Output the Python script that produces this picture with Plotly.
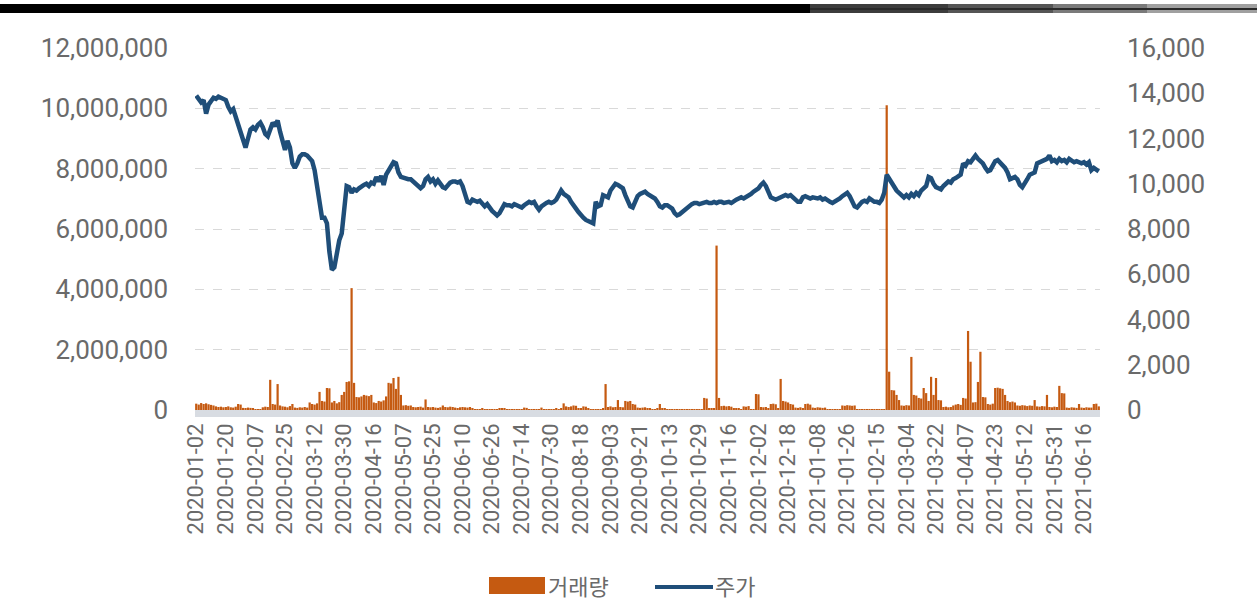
import pandas as pd
import plotly.graph_objects as go

# ---------------------------------------------------------------- data
# KRX market holidays falling on weekdays in the period shown
holidays = [
    "2020-01-24", "2020-01-27", "2020-04-15", "2020-04-30", "2020-05-01",
    "2020-05-05", "2020-08-17", "2020-09-30", "2020-10-01", "2020-10-02",
    "2020-10-09", "2020-12-25", "2020-12-31", "2021-01-01", "2021-02-11",
    "2021-02-12", "2021-03-01", "2021-05-05", "2021-05-19",
]

tick_labels = [
    "2020-01-02", "2020-01-20", "2020-02-07", "2020-02-25", "2020-03-12",
    "2020-03-30", "2020-04-16", "2020-05-07", "2020-05-25", "2020-06-10",
    "2020-06-26", "2020-07-14", "2020-07-30", "2020-08-18", "2020-09-03",
    "2020-09-21", "2020-10-13", "2020-10-29", "2020-11-16", "2020-12-02",
    "2020-12-18", "2021-01-08", "2021-01-26", "2021-02-15", "2021-03-04",
    "2021-03-22", "2021-04-07", "2021-04-23", "2021-05-12", "2021-05-31",
    "2021-06-16",
]

# closing price (KRW), one value per trading day
price = [
    13900, 13750, 13600, 13700, 13100, 13500, 13650, 13800, 13750, 13850, 13800, 13750,
    13700, 13400, 13200, 13300, 12950, 12700, 12300, 11900, 11600, 12000, 12400, 12500,
    12400, 12600, 12700, 12500, 12200, 12100, 12400, 12700, 12550, 12800, 12300, 11800,
    11500, 11900, 11600, 10900, 10700, 10900, 11200, 11300, 11300, 11250, 11100, 11000,
    10600, 9800, 9000, 8500, 8500, 8250, 7000, 6200, 6300, 6900, 7500, 7800,
    9000, 9900, 9850, 9600, 9750, 9700, 9800, 9900, 9950, 10000, 9900, 10050,
    10000, 10300, 10100, 10350, 9950, 10400, 10600, 10800, 10950, 10900, 10500, 10300,
    10250, 10250, 10200, 10200, 10100, 10000, 9850, 9800, 9900, 10200, 10300, 10100,
    10200, 10000, 10150, 9950, 9850, 9800, 9950, 10050, 10100, 10100, 10050, 10100,
    9900, 9600, 9200, 9150, 9300, 9250, 9200, 9250, 9100, 9000, 9100, 8900,
    8800, 8700, 8600, 8700, 8900, 9100, 9050, 9050, 9000, 9100, 9050, 9000,
    8950, 9050, 9150, 9200, 9150, 9200, 9000, 8850, 9000, 9100, 9150, 9200,
    9150, 9200, 9300, 9500, 9700, 9550, 9450, 9400, 9200, 9000, 8900, 8750,
    8600, 8500, 8400, 8350, 8300, 8250, 9200, 9000, 9050, 9500, 9450, 9400,
    9700, 9900, 10000, 9950, 9850, 9800, 9500, 9200, 9000, 8950, 9200, 9450,
    9550, 9600, 9650, 9550, 9500, 9400, 9350, 9200, 9000, 8950, 9050, 9050,
    9000, 8900, 8700, 8600, 8650, 8750, 8850, 8950, 9050, 9100, 9150, 9150,
    9100, 9150, 9150, 9200, 9150, 9150, 9200, 9150, 9200, 9200, 9150, 9200,
    9200, 9150, 9250, 9300, 9350, 9400, 9350, 9400, 9500, 9550, 9650, 9700,
    9800, 9950, 10050, 9900, 9600, 9400, 9350, 9300, 9350, 9400, 9450, 9500,
    9450, 9500, 9400, 9300, 9200, 9200, 9400, 9450, 9400, 9350, 9400, 9350,
    9350, 9400, 9300, 9350, 9250, 9200, 9150, 9200, 9300, 9350, 9450, 9550,
    9600, 9450, 9250, 9000, 8950, 9100, 9200, 9250, 9200, 9350, 9250, 9200,
    9200, 9150, 9300, 9600, 10400, 10200, 10000, 9800, 9700, 9600, 9500, 9400,
    9500, 9400, 9550, 9450, 9600, 9500, 9700, 9800, 9900, 10300, 10250, 10000,
    9850, 9800, 9750, 9900, 10000, 10100, 10050, 10200, 10250, 10300, 10400, 10900,
    10800, 11000, 10950, 11100, 11250, 11100, 11000, 10900, 10700, 10550, 10600, 10800,
    11000, 11050, 10950, 10800, 10700, 10500, 10200, 10250, 10300, 10200, 9950, 9850,
    10000, 10200, 10400, 10450, 10500, 10900, 10950, 11000, 11050, 11100, 11250, 11000,
    11050, 10950, 11100, 11000, 11050, 10950, 11100, 11000, 10950, 11000, 10950, 10900,
    10950, 10850, 10950, 10600, 10700, 10600, 10550,
]

# trading volume (shares), one value per trading day
volume = [
    210000, 180000, 230000, 200000, 220000, 190000, 170000, 150000, 120000, 100000, 110000, 90000,
    100000, 120000, 90000, 80000, 110000, 200000, 180000, 70000, 60000, 80000, 70000, 50000,
    20000, 15000, 20000, 90000, 110000, 100000, 1000000, 200000, 180000, 860000, 150000, 120000,
    110000, 90000, 130000, 200000, 80000, 70000, 90000, 80000, 100000, 80000, 250000, 200000,
    180000, 220000, 600000, 300000, 280000, 730000, 720000, 250000, 300000, 220000, 260000, 500000,
    600000, 930000, 950000, 4040000, 900000, 430000, 420000, 450000, 500000, 480000, 460000, 500000,
    250000, 230000, 300000, 280000, 320000, 450000, 900000, 880000, 1060000, 700000, 1100000, 500000,
    150000, 160000, 140000, 150000, 100000, 90000, 100000, 110000, 80000, 350000, 100000, 90000,
    100000, 80000, 70000, 90000, 150000, 100000, 90000, 110000, 100000, 80000, 60000, 90000,
    100000, 90000, 80000, 100000, 40000, 30000, 20000, 30000, 40000, 20000, 30000, 20000,
    30000, 20000, 30000, 50000, 40000, 50000, 30000, 20000, 20000, 30000, 20000, 30000,
    30000, 80000, 70000, 30000, 20000, 30000, 20000, 30000, 80000, 20000, 30000, 20000,
    30000, 20000, 40000, 30000, 50000, 220000, 120000, 100000, 120000, 150000, 140000, 60000,
    40000, 120000, 110000, 40000, 30000, 20000, 30000, 20000, 30000, 40000, 860000, 100000,
    120000, 90000, 100000, 330000, 100000, 90000, 300000, 280000, 300000, 200000, 180000, 80000,
    70000, 80000, 90000, 60000, 40000, 30000, 30000, 40000, 200000, 50000, 40000, 20000,
    20000, 15000, 10000, 20000, 15000, 10000, 20000, 15000, 10000, 20000, 15000, 10000,
    20000, 30000, 400000, 380000, 50000, 40000, 50000, 5450000, 400000, 130000, 140000, 120000,
    130000, 110000, 50000, 40000, 60000, 30000, 120000, 110000, 130000, 30000, 20000, 530000,
    520000, 100000, 90000, 100000, 40000, 200000, 210000, 190000, 60000, 1030000, 300000, 280000,
    250000, 200000, 180000, 80000, 70000, 90000, 60000, 200000, 210000, 180000, 80000, 70000,
    90000, 80000, 70000, 80000, 20000, 10000, 15000, 20000, 10000, 20000, 150000, 140000,
    160000, 150000, 140000, 150000, 30000, 20000, 10000, 20000, 15000, 10000, 20000, 10000,
    15000, 10000, 20000, 30000, 10100000, 1270000, 660000, 650000, 500000, 330000, 150000, 140000,
    160000, 150000, 1760000, 500000, 480000, 400000, 380000, 730000, 560000, 300000, 1100000, 500000,
    1060000, 330000, 320000, 100000, 110000, 90000, 100000, 150000, 180000, 200000, 170000, 400000,
    380000, 2620000, 1600000, 250000, 260000, 930000, 1930000, 430000, 420000, 200000, 180000, 210000,
    730000, 740000, 720000, 700000, 500000, 300000, 260000, 280000, 250000, 150000, 140000, 160000,
    150000, 130000, 150000, 140000, 330000, 120000, 110000, 130000, 120000, 500000, 100000, 90000,
    110000, 100000, 800000, 560000, 550000, 80000, 70000, 90000, 80000, 70000, 200000, 80000,
    70000, 90000, 80000, 80000, 200000, 210000, 120000,
]

series_names = ["거래량", "주가"]

# trading-day categories for the x axis
all_days = pd.bdate_range("2020-01-02", "2021-06-30").strftime("%Y-%m-%d")
days = [d for d in all_days if d not in holidays][: len(price)]

# ---------------------------------------------------------------- layout
W, H = 1257, 602
PL, PR, PT, PB = 195, 1100, 48, 410  # plot box (px)

BAR_COLOR = "#C55A11"
LINE_COLOR = "#1F4E79"
TEXT_COLOR = "#6a6a6a"


def px_x(x):
    return (x - PL) / (PR - PL)


def px_y(y):
    return (PB - y) / (PB - PT)


fig = go.Figure()
fig.add_trace(go.Bar(
    x=days, y=volume, name=series_names[0],
    marker=dict(color=BAR_COLOR, line_width=0), showlegend=False,
))
fig.add_trace(go.Scatter(
    x=days, y=price, name=series_names[1], yaxis="y2", mode="lines",
    line=dict(color=LINE_COLOR, width=4.5), showlegend=False,
))

shapes = []
# grey strip under the category axis
shapes.append(dict(type="rect", xref="paper", yref="paper",
                   x0=0, x1=1, y0=px_y(417), y1=px_y(410),
                   fillcolor="#d8dce2", line_width=0, layer="below"))

# header bar along the top edge
shapes.append(dict(type="rect", xref="paper", yref="paper",
                   x0=px_x(0), x1=px_x(810), y0=px_y(13), y1=px_y(4),
                   fillcolor="#000000", line_width=0))
for x0, x1, c in [(810, 948, "#3c3c3c"), (948, 1053, "#555555"),
                  (1053, 1147, "#7a7a7a"), (1147, 1257, "#a0a0a0")]:
    shapes.append(dict(type="rect", xref="paper", yref="paper",
                       x0=px_x(x0), x1=px_x(x1), y0=px_y(13), y1=px_y(4),
                       fillcolor=c, line_width=0))
shapes.append(dict(type="line", xref="paper", yref="paper",
                   x0=px_x(810), x1=px_x(1257), y0=px_y(9), y1=px_y(9),
                   line=dict(color="#2a2a2a", width=2)))

# legend swatches
shapes.append(dict(type="rect", xref="paper", yref="paper",
                   x0=px_x(489), x1=px_x(545), y0=px_y(594), y1=px_y(577),
                   fillcolor=BAR_COLOR, line_width=0))
shapes.append(dict(type="line", xref="paper", yref="paper",
                   x0=px_x(655), x1=px_x(713), y0=px_y(587), y1=px_y(587),
                   line=dict(color=LINE_COLOR, width=4)))

annotations = [
    dict(xref="paper", yref="paper", x=px_x(546), y=px_y(585),
         text=series_names[0], showarrow=False, xanchor="left", yanchor="middle",
         font=dict(family="Noto Sans CJK KR", size=22, color=TEXT_COLOR)),
    dict(xref="paper", yref="paper", x=px_x(713), y=px_y(585),
         text=series_names[1], showarrow=False, xanchor="left", yanchor="middle",
         font=dict(family="Noto Sans CJK KR", size=22, color=TEXT_COLOR)),
]

fig.update_layout(
    width=W, height=H,
    margin=dict(l=PL, r=W - PR, t=PT, b=H - PB, pad=0),
    paper_bgcolor="white", plot_bgcolor="white",
    bargap=0.1,
    font=dict(family="Roboto, Noto Sans CJK KR, sans-serif", color=TEXT_COLOR),
    xaxis=dict(
        type="category", tickmode="array",
        tickvals=tick_labels, ticktext=tick_labels,
        tickangle=-90, tickfont=dict(size=22),
        range=[-0.5, len(days) - 0.5],
        showgrid=False, zeroline=False, showline=False, ticks="",
        ticklabelstandoff=8,
    ),
    yaxis=dict(
        range=[0, 12_000_000], dtick=2_000_000, tickformat=",",
        showgrid=True, gridcolor="#d9d9d9", griddash="dash", gridwidth=1,
        zeroline=False, showline=False, ticks="",
        tickfont=dict(size=26), ticklabelstandoff=26,
    ),
    yaxis2=dict(
        overlaying="y", side="right",
        range=[0, 16000], dtick=2000, tickformat=",",
        showgrid=False, zeroline=False, showline=False, ticks="",
        tickfont=dict(size=26), ticklabelstandoff=26,
    ),
    shapes=shapes,
    annotations=annotations,
)

fig.write_html("out.html")
